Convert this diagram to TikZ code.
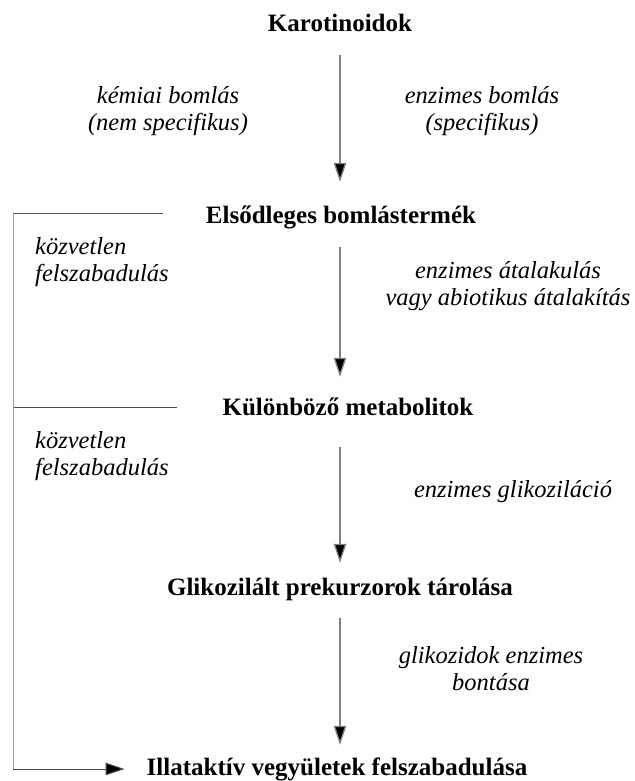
\documentclass[tikz,border=0pt]{standalone}
\usepackage{fontspec}
\setmainfont{Liberation Serif}
\usetikzlibrary{arrows.meta}

\begin{document}
\begin{tikzpicture}[x=1pt,y=-1pt,
	stage/.style={font=\fontsize{25}{28}\selectfont\bfseries, inner sep=2pt, text height=18pt, text depth=6pt, anchor=base},
	note/.style={font=\fontsize{24.5}{26.5}\selectfont\itshape, align=center, inner sep=2pt, anchor=base},
	tip/.style={-{Triangle[length=19pt,width=12.5pt,fill=black]}},
	flow/.style={draw=black!50, line width=1.3pt, tip},
	side/.style={draw=black!70, line width=1pt}]

\useasboundingbox (0,0) rectangle (634,781);

% stages
\node[stage] (karo) at (340,32) {Karotinoidok};
\node[stage] (elso) at (341,223) {Elsődleges bomlástermék};
\node[stage] (kulon) at (348,415) {Különböző metabolitok};
\node[stage] (gliko) at (340,595) {Glikozilált prekurzorok tárolása};
\node[stage] (illat) at (337,775) {Illataktív vegyületek felszabadulása};

% main arrows
\draw[flow, shorten <=15pt, shorten >=21pt] (karo.south) -- (karo.south |- elso.north);
\draw[flow, shorten <=16pt, shorten >=18pt] (karo.south |- elso.south) -- (karo.south |- kulon.north);
\draw[flow, shorten <=24pt, shorten >=12pt] (karo.south |- kulon.south) -- (karo.south |- gliko.north);
\draw[flow, shorten <=15pt, shorten >=10pt] (karo.south |- gliko.south) -- (karo.south |- illat.north);

% notes (base = last line)
\node[note] (kemiai) at (168,130) {kémiai bomlás\\(nem specifikus)};
\node[note] (enz1) at (482,130) {enzimes bomlás\\(specifikus)};
\node[note] (enz2) at (508,305) {enzimes átalakulás\\vagy abiotikus átalakítás};
\node[note] (enz3) at (513,497) {enzimes glikoziláció};
\node[note] (enz4) at (491,690) {glikozidok enzimes\\bontása};
\node[note, align=left, anchor=base west] (kozv1) at (33,281) {közvetlen\\felszabadulás};
\node[note, align=left, anchor=base west] (kozv2) at (33,475) {közvetlen\\felszabadulás};

% side route
\coordinate (rail) at (13,213);
\coordinate (cut1) at (163,213);
\coordinate (cut2) at (177,407);
\draw[side] (cut1) -- (rail);
\draw[side] (cut2) -- (rail |- cut2);
\draw[side, draw=black!40] (rail) -- (rail |- illat.west);
\draw[side, tip, shorten >=20pt] (rail |- illat.west) -- (illat.west);

\end{tikzpicture}
\end{document}
